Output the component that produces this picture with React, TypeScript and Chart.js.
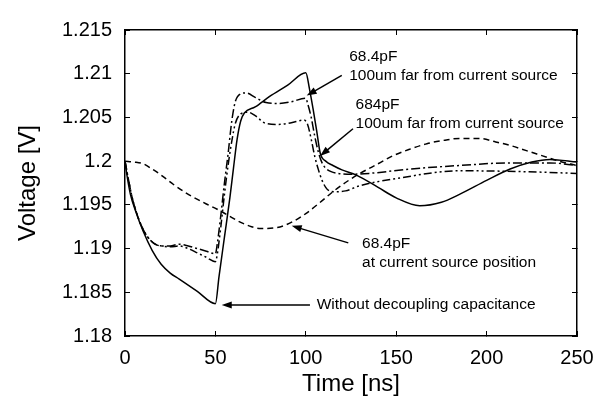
import { useEffect, useRef } from 'react';
import { Chart, registerables } from 'chart.js';

Chart.register(...registerables);

const FONT = '"Liberation Sans", Arial, Helvetica, sans-serif';

const xTickValues = [0, 50, 100, 150, 200, 250];
const xTickLabels = ['0', '50', '100', '150', '200', '250'];
const yTickValues = [1.18, 1.185, 1.19, 1.195, 1.2, 1.205, 1.21, 1.215];
const yTickLabels = ['1.18', '1.185', '1.19', '1.195', '1.2', '1.205', '1.21', '1.215'];

// Without decoupling capacitance (solid)
const noCapT = [0, 1, 3, 6, 10, 15, 20, 25, 30, 40, 50, 52, 55, 58, 60, 62, 64, 66, 72, 80, 90, 100, 102, 104, 106, 108, 111, 115, 120, 128, 140, 150, 163, 175, 185, 200, 213, 225, 235, 250];
const noCapV = [1.2, 1.1985, 1.1962, 1.1942, 1.192, 1.1898, 1.1882, 1.1872, 1.1865, 1.1851, 1.1837, 1.1868, 1.1913, 1.1958, 1.1992, 1.2025, 1.2046, 1.2055, 1.2062, 1.2074, 1.2087, 1.2101, 1.2083, 1.206, 1.2035, 1.2009, 1.2, 1.1995, 1.199, 1.1984, 1.197, 1.1958, 1.1949, 1.1953, 1.1962, 1.1978, 1.1991, 1.1999, 1.2002, 1.1999];

// 68.4pF at current source position (dashed)
const atSrcT = [0, 5, 10, 15, 20, 27, 35, 45, 51, 57, 64, 70, 75, 84, 93, 100, 108, 115, 123, 130, 140, 148, 158, 167, 177, 185, 196, 205, 213, 222, 231, 240, 250];
const atSrcV = [1.2, 1.1999, 1.1997, 1.1991, 1.1984, 1.1973, 1.1962, 1.1951, 1.1945, 1.1938, 1.193, 1.1925, 1.1923, 1.1924, 1.1931, 1.194, 1.1953, 1.1965, 1.1977, 1.1986, 1.1997, 1.2006, 1.2014, 1.202, 1.2024, 1.2026, 1.2026, 1.2022, 1.2018, 1.2012, 1.2006, 1.2, 1.1995];

// 68.4pF 100um far from current source (dash-dot)
const far68T = [0, 2, 4, 7, 10, 13, 16, 20, 25, 30, 35, 40, 45, 50, 51, 53, 55, 57, 59, 61, 64, 67, 72, 78, 85, 92, 100, 101, 103, 105, 107, 109, 111, 114, 118, 125, 135, 158, 185, 213, 235, 250];
const far68V = [1.2, 1.1978, 1.1958, 1.1937, 1.1922, 1.1912, 1.1906, 1.1903, 1.1903, 1.1905, 1.1903, 1.19, 1.1897, 1.1894, 1.1905, 1.1938, 1.1975, 1.2008, 1.2045, 1.2068, 1.2077, 1.2078, 1.2073, 1.2067, 1.2066, 1.2068, 1.2072, 1.2066, 1.205, 1.2028, 1.201, 1.1998, 1.1992, 1.1988, 1.1986, 1.1985, 1.1986, 1.1991, 1.1995, 1.1998, 1.1998, 1.1995];

// 684pF 100um far from current source (dash-dot-dot)
const far684T = [0, 2, 4, 7, 10, 13, 16, 20, 25, 30, 35, 40, 45, 50, 51, 53, 55, 57, 59, 61, 64, 68, 72, 78, 85, 92, 99, 101, 103, 105, 107, 109, 111, 113, 116, 122, 130, 150, 185, 220, 250];
const far684V = [1.2, 1.1978, 1.1958, 1.1937, 1.1922, 1.1912, 1.1906, 1.1903, 1.1902, 1.1903, 1.19, 1.1895, 1.189, 1.1885, 1.1893, 1.1925, 1.1962, 1.1995, 1.2022, 1.2043, 1.2054, 1.2056, 1.2052, 1.2043, 1.2042, 1.2044, 1.2047, 1.2042, 1.2025, 1.2005, 1.199, 1.1978, 1.197, 1.1966, 1.1965, 1.1966, 1.1972, 1.198, 1.1989, 1.1988, 1.1986];

type Ann = { lines: string[]; at: [number, number]; from: [number, number]; to: [number, number] };
const annotations: Ann[] = [
  { lines: ['68.4pF', '100um far from current source'], at: [124, 1.2119], from: [119.9, 1.2098], to: [100.5, 1.2075] },
  { lines: ['684pF', '100um far from current source'], at: [127.5, 1.2064], from: [126.1, 1.2037], to: [107.9, 1.2006] },
  { lines: ['68.4pF', 'at current source position'], at: [131.1, 1.1905], from: [123.5, 1.19065], to: [92.2, 1.1926] },
  { lines: ['Without decoupling capacitance'], at: [106, 1.18355], from: [102.3, 1.18355], to: [53.5, 1.18355] },
];

const pts = (t: number[], v: number[]) => t.map((x, i) => ({ x, y: v[i] }));

const annotationPlugin = {
  id: 'arrowNotes',
  afterDatasetsDraw(chart: any) {
    const { ctx } = chart;
    const xs = chart.scales.x;
    const ys = chart.scales.y;
    ctx.save();
    ctx.fillStyle = '#000';
    ctx.strokeStyle = '#000';
    ctx.font = `15.5px ${FONT}`;
    ctx.textAlign = 'left';
    ctx.textBaseline = 'middle';
    for (const a of annotations) {
      const tx = xs.getPixelForValue(a.at[0]);
      const ty = ys.getPixelForValue(a.at[1]);
      a.lines.forEach((s, i) => ctx.fillText(s, tx, ty + i * 18.4));
      const x1 = xs.getPixelForValue(a.from[0]);
      const y1 = ys.getPixelForValue(a.from[1]);
      const x2 = xs.getPixelForValue(a.to[0]);
      const y2 = ys.getPixelForValue(a.to[1]);
      const ang = Math.atan2(y2 - y1, x2 - x1);
      const len = 10;
      const hw = 3.5;
      ctx.lineWidth = 1.5;
      ctx.beginPath();
      ctx.moveTo(x1, y1);
      ctx.lineTo(x2 - Math.cos(ang) * len * 0.8, y2 - Math.sin(ang) * len * 0.8);
      ctx.stroke();
      ctx.beginPath();
      ctx.moveTo(x2, y2);
      ctx.lineTo(x2 - Math.cos(ang) * len - Math.sin(ang) * hw, y2 - Math.sin(ang) * len + Math.cos(ang) * hw);
      ctx.lineTo(x2 - Math.cos(ang) * len + Math.sin(ang) * hw, y2 - Math.sin(ang) * len - Math.cos(ang) * hw);
      ctx.closePath();
      ctx.fill();
    }
    ctx.restore();
  },
};

const gridOpts = {
  drawOnChartArea: false,
  drawTicks: true,
  tickLength: -5,
  color: '#000',
  lineWidth: 1,
};
const borderOpts = { display: true, color: '#000', width: 1.5 };

export default function App() {
  const ref = useRef<HTMLCanvasElement | null>(null);
  useEffect(() => {
    if (!ref.current) return;
    document.body.style.margin = '0';
    const line = (data: any, dash: number[]) => ({
      data,
      borderColor: '#000',
      backgroundColor: '#000',
      borderWidth: 1.5,
      borderDash: dash,
      pointRadius: 0,
      fill: false,
      cubicInterpolationMode: 'monotone' as const,
    });
    const chart = new Chart(ref.current, {
      type: 'line',
      data: {
        datasets: [
          { label: 'Without decoupling capacitance', ...line(pts(noCapT, noCapV), []) },
          { label: '68.4pF at current source position', ...line(pts(atSrcT, atSrcV), [6, 4]) },
          { label: '68.4pF 100um far from current source', ...line(pts(far68T, far68V), [9, 3, 2, 3]) },
          { label: '684pF 100um far from current source', ...line(pts(far684T, far684V), [8, 3, 2, 3, 2, 3]) },
        ],
      },
      options: {
        animation: false,
        responsive: false,
        devicePixelRatio: 1,
        layout: { padding: { top: 14, right: 36, left: 0, bottom: 0 } },
        plugins: { legend: { display: false }, tooltip: { enabled: false } },
        scales: {
          x: {
            type: 'linear',
            position: 'bottom',
            min: 0,
            max: 250,
            afterBuildTicks: (s: any) => { s.ticks = xTickValues.map((v) => ({ value: v })); },
            afterFit: (s: any) => { s.height = 67; },
            ticks: {
              color: '#000',
              font: { family: FONT, size: 20 },
              padding: 15,
              maxRotation: 0,
              callback: (_v: any, i: number) => xTickLabels[i],
            },
            grid: gridOpts,
            border: borderOpts,
            title: { display: true, text: 'Time [ns]', color: '#000', font: { family: FONT, size: 24 }, padding: { top: 0, bottom: 4 } },
          },
          x2: {
            type: 'linear',
            position: 'top',
            min: 0,
            max: 250,
            afterBuildTicks: (s: any) => { s.ticks = xTickValues.map((v) => ({ value: v })); },
            afterFit: (s: any) => { s.height = 0; },
            ticks: { display: false },
            grid: gridOpts,
            border: borderOpts,
          },
          y: {
            type: 'linear',
            position: 'left',
            min: 1.18,
            max: 1.215,
            afterBuildTicks: (s: any) => { s.ticks = yTickValues.map((v) => ({ value: v })); },
            afterFit: (s: any) => { s.width = 125; },
            ticks: {
              color: '#000',
              font: { family: FONT, size: 20 },
              padding: 18,
              callback: (_v: any, i: number) => yTickLabels[i],
            },
            grid: gridOpts,
            border: borderOpts,
            title: { display: true, text: 'Voltage [V]', color: '#000', font: { family: FONT, size: 24 }, padding: { top: 14, bottom: 0 } },
          },
          y2: {
            type: 'linear',
            position: 'right',
            min: 1.18,
            max: 1.215,
            afterBuildTicks: (s: any) => { s.ticks = yTickValues.map((v) => ({ value: v })); },
            afterFit: (s: any) => { s.width = 0; },
            ticks: { display: false },
            grid: gridOpts,
            border: borderOpts,
          },
        },
      },
      plugins: [annotationPlugin],
    });
    return () => chart.destroy();
  }, []);
  return (
    <div style={{ position: 'absolute', left: 0, top: 0, width: 613, height: 403, background: '#fff' }}>
      <canvas ref={ref} width={613} height={403} style={{ display: 'block' }} />
    </div>
  );
}
